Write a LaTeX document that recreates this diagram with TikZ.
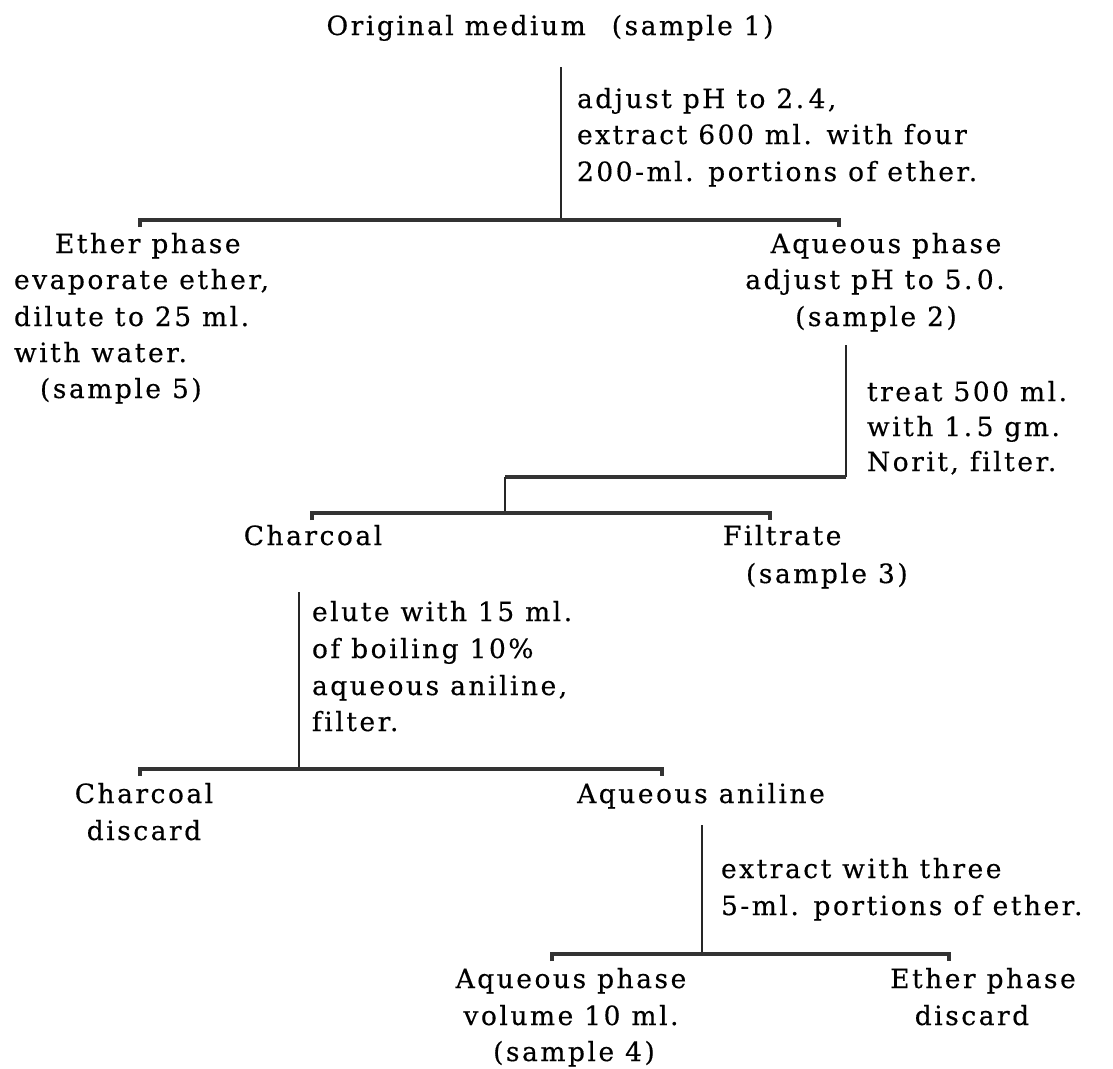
\documentclass[tikz,border=0pt]{standalone}
\usepackage{fontspec}
\setmainfont{DejaVu Serif}[LetterSpace=9.5, Ligatures=NoCommon, FakeBold=0.4]
\begin{document}
\begin{tikzpicture}[x=1pt,y=-1pt,
  every node/.style={inner sep=0pt, outer sep=0pt, font=\fontsize{26.5pt}{30pt}\selectfont, text=black},
  txt/.style={anchor=base west},
  ctr/.style={anchor=base},
  vline/.style={line width=2.2pt, draw=black!85},
  barline/.style={line width=3.4pt, line join=miter, draw=black!80}]
\path[use as bounding box, fill=white] (0,0) rectangle (1113,1068);

% texts
\node[ctr] (orig) at (550,35) {Original medium\hspace{26pt}(sample 1)};
\node[txt] (a1) at (577,108) {adjust pH to 2.\,4,};
\node[txt] (a2) at (577,144) {extract 600 ml. with four};
\node[txt] (a3) at (577,181) {200-ml. portions of ether.};

\node[txt] (e1) at (55,253) {Ether phase};
\node[txt] (e2) at (14,289) {evaporate ether,};
\node[txt] (e3) at (14,326) {dilute to 25 ml.};
\node[txt] (e4) at (14,362) {with water.};
\node[txt] (e5) at (40,398) {(sample 5)};

\node[ctr] (q1) at (886,253) {Aqueous phase};
\node[ctr] (q2) at (875,289) {adjust pH to 5.\,0.};
\node[ctr] (q3) at (876,326) {(sample 2)};

\node[txt] (t1) at (867,401) {treat 500 ml.};
\node[txt] (t2) at (867,436) {with 1.\,5 gm.};
\node[txt] (t3) at (867,471) {Norit, filter.};

\node[ctr] (ch1) at (313,545) {Charcoal};
\node[txt] (f1) at (723,545) {Filtrate};
\node[txt] (f2) at (746,583) {(sample 3)};

\node[txt] (el1) at (312,621) {elute with 15 ml.};
\node[txt] (el2) at (312,658) {of boiling 10\%};
\node[txt] (el3) at (312,695) {aqueous aniline,};
\node[txt] (el4) at (312,731) {filter.};

\node[ctr] (cd1) at (144,803) {Charcoal};
\node[ctr] (cd2) at (144,840) {discard};
\node[ctr] (aa) at (701,803) {Aqueous aniline};

\node[txt] (x1) at (721,878) {extract with three};
\node[txt] (x2) at (721,915) {5-ml. portions of ether.};

\node[ctr] (ap1) at (571,988) {Aqueous phase};
\node[ctr] (ap2) at (571,1025) {volume 10 ml.};
\node[ctr] (ap3) at (574,1061) {(sample 4)};
\node[ctr] (ep1) at (983,988) {Ether phase};
\node[ctr] (ep2) at (972,1025) {discard};

% junction coordinates
\coordinate (v1t) at (561,67);  \coordinate (v1b) at (561,220);
\coordinate (b1l) at (140,220); \coordinate (b1r) at (839,220);
\coordinate (v2t) at (846,345); \coordinate (v2k) at (846,477);
\coordinate (v2j) at (505,477); \coordinate (v2b) at (505,513);
\coordinate (b2l) at (312,513); \coordinate (b2r) at (770,513);
\coordinate (v3t) at (299,592); \coordinate (v3b) at (299,769);
\coordinate (b3l) at (140,769); \coordinate (b3r) at (662,769);
\coordinate (v4t) at (702,825); \coordinate (v4b) at (702,954);
\coordinate (b4l) at (552,954); \coordinate (b4r) at (949,954);

% connectors
\draw[vline] (v1t) -- (v1b);
\draw[barline] (b1l) ++(0,7) -- (b1l) -- (b1r) -- ++(0,7);
\draw[vline] (v2t) -- (v2k);
\draw[barline] (v2k) -- (v2j);
\draw[vline] (v2j) -- (v2b);
\draw[barline] (b2l) ++(0,7) -- (b2l) -- (b2r) -- ++(0,7);
\draw[vline] (v3t) -- (v3b);
\draw[barline] (b3l) ++(0,7) -- (b3l) -- (b3r) -- ++(0,7);
\draw[vline] (v4t) -- (v4b);
\draw[barline] (b4l) ++(0,7) -- (b4l) -- (b4r) -- ++(0,7);
\end{tikzpicture}
\end{document}
